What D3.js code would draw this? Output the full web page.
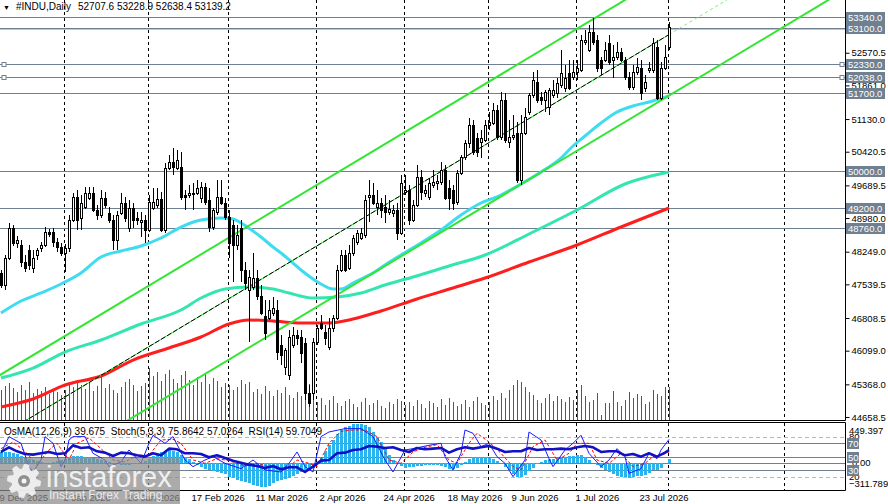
<!DOCTYPE html>
<html>
<head>
<meta charset="utf-8">
<script src="https://cdn.jsdelivr.net/npm/d3@7/dist/d3.min.js"></script>
<style>
html,body{margin:0;padding:0;background:#fff;overflow:hidden;}
svg{display:block;}
text{font-family:"Liberation Sans",Arial,sans-serif;}
</style>
</head>
<body>
<svg id="chart" width="888" height="504"></svg>
<script>
// ---------------- DATA ----------------
const symbolTitle = "#INDU,Daily";
const headerValues = "52707.6 53228.9 52638.4 53139.2";
const oscTitle = "OsMA(12,26,9) 39.675  Stoch(5,3,3) 75.8642 57.0264  RSI(14) 59.7049";

const open = [47786,47526,48112,48764,48438,48394,48025,48286,47894,48177,
 48329,48394,48677,48677,48459,48351,48221,48329,48937,49437,
 48981,49220,49415,49523,49154,49046,49415,49089,48937,48503,
 49089,49306,48764,49198,48981,48894,48937,48720,49198,49263,
 49393,48720,50067,50197,50067,50088,49480,49480,49502,49523,
 49415,49654,49372,48785,49111,49437,49306,49002,48829,48394,
 48764,47851,47417,47482,47677,47286,46852,46809,46917,46982,
 46222,45744,45571,46222,46439,46396,46266,45180,45180,46287,
 46700,46505,46179,46591,46809,47851,48177,47894,48221,48459,
 48546,48611,49437,49480,49220,49306,49220,49111,49089,49154,
 48655,49545,49589,48937,49263,49871,49523,49437,49697,49741,
 49763,50023,49632,49589,49328,49958,50306,50610,51001,50718,
 50631,50675,51001,51044,51326,50740,51544,50631,50740,50827,
 49806,50827,51283,51652,51935,51609,51544,51392,51652,51696,
 51869,51804,52130,52043,52152,52195,52803,52630,53021,52847,
 52412,52412,52782,52412,52478,52586,52412,52043,51826,52152,
 52239,51804,52195,52195,52695,51587,52239,52707.6];
const high = [47851,48177,48872,48829,48590,48503,48177,48394,48286,48329,
 48459,48785,48742,48764,48546,48438,48416,49046,49523,49589,
 49480,49654,49654,49654,49263,49589,49545,49220,49046,49133,
 49523,49437,49372,49306,49111,49111,49046,49480,49632,49632,
 49545,50175,50349,50501,50458,50414,49589,49697,49741,49806,
 49763,49741,49632,49198,49806,49806,49415,49154,48937,48829,
 48937,48025,47851,48221,47851,47526,47200,47200,47265,47200,
 46439,46157,46548,46613,46548,46548,46374,45353,46374,46657,
 46874,46657,46809,46874,47960,48286,48286,48394,48611,48720,
 48764,49480,49806,49741,49589,49415,49480,49372,49263,49306,
 49915,49915,49697,49372,50132,50023,49697,49849,50023,49915,
 50197,50132,49806,49697,50023,50349,50675,51153,51109,50827,
 50892,51109,51283,51479,51435,51717,51696,51109,51218,51066,
 51218,51370,51696,52152,52195,51717,51761,51804,51978,52022,
 52630,52304,52412,52412,52412,52956,53064,53173,53320,52956,
 52478,52803,52956,52738,52803,52673,52478,52152,52304,52456,
 52412,52087,52369,52890,52847,52369,52738,53228.9];
const low = [47460,47417,48068,48373,48329,47916,47807,47851,47786,48068,
 48242,48351,48568,48351,48242,48155,47807,48242,48894,48720,
 48720,49176,49372,49111,48937,48981,49198,48872,48286,48286,
 49046,48894,48677,48764,48829,48568,48438,48677,49154,49198,
 48677,48655,50023,49915,50023,49372,49154,49415,49154,49480,
 49306,49263,48677,48720,49046,49263,48937,48112,47590,48286,
 47590,47417,46287,47417,47200,46874,46331,46765,46852,45896,
 45788,45571,45462,46157,46222,45831,45028,44876,45028,46222,
 46548,46222,46114,46505,46765,47807,47807,47851,48155,48394,
 48503,48546,48894,49263,49046,48981,48872,49046,49002,48503,
 48611,49480,48829,48894,49220,49372,49437,49372,49632,49589,
 49697,49372,49154,49154,49263,49915,50240,50501,50349,50306,
 50284,50631,50892,51001,50675,50675,50610,50501,50675,49741,
 49697,50783,51218,51587,51479,51435,51283,51218,51587,51587,
 51804,51717,51761,51978,51978,52152,52738,52586,52738,52152,
 52087,52369,52304,52022,52412,52369,51978,51761,51761,52087,
 51544,51717,52130,52130,51544,51544,52195,52638.4];
const close = [47526,48112,48764,48438,48503,48025,47894,47960,48112,48286,
 48394,48677,48633,48459,48351,48221,48329,48937,49437,48937,
 49306,49523,49523,49154,49046,49415,49263,48937,48503,49046,
 49306,48981,49198,48937,48937,48937,48720,49328,49328,49393,
 48720,50067,50197,50088,50240,49437,49437,49523,49523,49632,
 49654,49328,48785,49154,49437,49306,49002,48438,48394,48611,
 47851,47569,47699,47677,47286,46917,46483,46982,47027,46070,
 46005,46114,46396,46439,46374,46048,45180,44963,46287,46591,
 46591,46374,46591,46809,47851,48177,47851,48221,48546,48655,
 48655,49372,49480,49306,49306,49154,49111,49176,49154,48655,
 49741,49589,48937,49263,49871,49545,49589,49741,49763,49784,
 50023,49415,49415,49306,49958,50306,50610,51001,50414,50414,
 50718,51001,51066,51326,50740,51544,50675,50740,50783,49806,
 50827,51175,51652,51978,51544,51544,51717,51761,51761,51913,
 52130,52022,51804,52152,52239,52847,52847,53021,52803,52239,
 52239,52630,52369,52478,52586,52412,52043,51826,52152,52260,
 51696,51935,52239,52782,51587,52239,52478,53139.2];

// tick volume (thousands)
const volume = [30,34,37,32,28,35,30,38,27,31,29,33,26,30,28,25,
 30,36,33,40,35,31,38,29,34,43,32,36,30,27,33,38,41,35,29,34,37,
 52,44,48,39,46,50,41,37,45,49,40,35,43,38,47,36,42,39,33,37,
 35,30,33,40,36,38,28,31,26,34,29,24,30,27,33,25,22,28,24,40,36,30,
 18,22,15,20,24,17,14,19,21,16,13,18,22,15,17,20,14,12,18,16,21,19,
 15,18,14,20,16,12,19,17,13,21,15,22,18,14,16,20,13,19,23,17,15,
 18,24,20,27,22,30,35,40,38,33,28,25,20,17,22,26,19,24,21,18,23,20,
 30,35,24,18,20,27,5,17,17,29,18,14,20,28,22,26,24,16,18,30,26,24,33,33];

// moving averages [bar index, price]
const maFast = [[0,46917],[5,47178],[10,47352],[15,47547],[20,47786],[25,48134],[30,48264],[35,48373],[40,48546],[45,48785],[50,48937],[55,48981],[58,48959],[60,48872],[63,48698],[65,48568],[68,48351],[70,48221],[73,48003],[75,47851],[78,47656],[80,47547],[83,47439],[85,47439],[88,47569],[90,47656],[93,47786],[96,47960],[100,48177],[105,48438],[110,48720],[115,49046],[120,49306],[125,49480],[130,49719],[135,49980],[140,50284],[143,50545],[146,50762],[150,51044],[154,51283],[158,51414],[162,51501],[167,51631]];
const maMid = [[0,45505],[8,45722],[16,46070],[25,46331],[35,46679],[45,46982],[50,47243],[56,47439],[62,47482],[68,47439],[72,47352],[78,47243],[84,47265],[90,47352],[96,47526],[103,47699],[112,47938],[121,48177],[132,48633],[144,49154],[156,49719],[167,49980]];
const maSlow = [[0,44876],[8,45050],[16,45353],[25,45549],[33,45896],[42,46157],[50,46396],[57,46679],[62,46765],[68,46744],[75,46700],[82,46700],[88,46787],[95,46961],[104,47221],[113,47460],[121,47677],[132,48025],[144,48394],[155,48785],[167,49198]];

// regression channel: midline anchors [bar index, price] and half width
const channelMid = [[0,44259],[167,52964]];
const channelHalf = 1325;

// oscillators
const osma = [125,120,115,110,100,80,60,45,30,15,
 5,-5,0,10,15,30,45,60,70,75,
 72,65,58,50,40,28,15,5,-10,-20,
 -28,-30,-27,-22,-15,-5,15,45,75,100,
 120,135,140,130,115,90,60,35,5,-25,
 -55,-75,-90,-100,-110,-115,-130,-160,-180,-200,
 -215,-225,-235,-250,-262,-275,-280,-265,-230,-210,
 -200,-190,-175,-150,-130,-110,-95,-80,-60,-20,
 60,130,200,260,320,370,400,420,435,440,
 440,430,400,350,290,230,160,90,30,-10,
 -40,-60,-55,-45,-40,-35,-30,-30,-25,-30,
 -40,-55,-70,-75,-60,-30,10,40,60,65,
 65,60,50,35,15,-10,-50,-90,-130,-160,
 -165,-140,-100,-60,-20,10,30,40,45,50,
 55,60,70,80,90,85,60,30,0,-30,
 -60,-85,-110,-130,-150,-160,-165,-170,-160,-150,
 -155,-140,-120,-90,-80,-60,-10,39.675];
const stochMain = [[0,55],[2,80],[5,70],[7,35],[8,27],[10,45],[11,80],[13,70],[15,35],[16,45],[17,75],[18,80],[21,80],[23,55],[26,45],[27,35],[30,42],[32,60],[35,40],[37,70],[38,82],[41,70],[43,80],[46,45],[48,35],[51,45],[53,50],[56,40],[60,32],[63,45],[66,30],[70,27],[72,40],[74,57],[76,35],[78,27],[80,80],[82,87],[86,92],[90,92],[93,80],[96,45],[98,27],[101,60],[103,62],[107,67],[110,70],[111,50],[113,30],[115,55],[116,90],[118,85],[120,65],[122,70],[124,50],[126,40],[128,20],[131,45],[132,87],[135,75],[137,47],[138,35],[141,60],[143,70],[145,82],[147,55],[150,35],[152,45],[154,62],[156,50],[157,25],[160,32],[162,55],[164,47],[165,60],[167,75.8642]];
const stochSignal = [[0,62],[3,72],[6,58],[9,38],[12,60],[14,70],[17,45],[19,70],[22,78],[25,62],[28,45],[31,42],[34,52],[37,52],[40,75],[43,76],[45,70],[48,45],[51,40],[54,47],[57,44],[61,36],[64,40],[67,35],[71,30],[74,45],[77,40],[79,35],[82,70],[85,88],[88,90],[91,90],[94,80],[97,45],[100,40],[103,57],[106,64],[109,68],[112,45],[114,40],[117,70],[119,85],[122,72],[125,55],[128,35],[130,30],[133,65],[136,75],[139,45],[142,55],[144,70],[147,70],[149,45],[152,40],[155,55],[158,35],[161,40],[163,50],[165,52],[167,57.0264]];
const rsi = [[0,57],[2,64],[4,58],[6,54],[8,53],[10,55],[12,57],[14,54],[16,55],[18,67],[20,63],[22,64],[24,58],[26,56],[28,51],[30,56],[32,55],[34,52],[36,50],[38,55],[40,52],[42,62],[44,61],[46,55],[48,55],[50,54],[52,49],[54,52],[56,48],[58,44],[60,41],[62,38],[64,36],[66,33],[68,36],[70,31],[72,34],[74,34],[76,27],[78,35],[80,44],[82,45],[84,55],[86,56],[88,60],[90,61],[92,66],[94,65],[96,63],[98,64],[100,60],[102,57],[104,63],[106,61],[108,62],[110,63],[112,56],[114,61],[116,64],[118,62],[120,64],[122,66],[124,62],[126,57],[128,58],[130,58],[132,63],[134,60],[136,61],[138,61],[140,62],[142,61],[144,64],[146,66],[148,64],[150,57],[152,58],[154,58],[156,52],[158,54],[160,50],[162,55],[164,50],[166,56],[167,59.7049]];

// levels and axis labels
const levels = [53340, 53100, 52330, 52038, 51700, 50000, 49200, 48760];
const selectedLevels = [52330, 52038];
const bidLine = 53085;
const priceTicks = [52570.5, 51861.0, 51130.0, 50420.5, 49689.5, 48980.0, 48249.0, 47539.5, 46808.5, 46099.0, 45368.0, 44658.5];
const oscMax = 449.397, oscMin = -311.789;
const oscBoxLevels = [70, 50, 30];
const oscDashLevels = [80, 20];
const dateLabels = ["9 Dec 2025","2 Jan 2026","26 Jan 2026","17 Feb 2026","11 Mar 2026","2 Apr 2026","24 Apr 2026","18 May 2026","9 Jun 2026","1 Jul 2026","23 Jul 2026"];
const dateLabelIdx = [0,16,32,48,64,80,96,112,128,144,160];
const separatorIdx = [16,37,57,79,101,122,144,167,196];

// ---------------- LAYOUT ----------------
const svg = d3.select("#chart");
const R = 845;
const mainB = 420;
const oscT = 423, oscB = 490;
const slate = "#708090";
const FS = 9.5;

const x = d3.scaleLinear().domain([0, 167]).range([1, 669]);
const y = d3.scaleLinear().domain([44593.3, 53715.7]).range([420, 0]);
const yVol = d3.scaleLinear().domain([0, 100]).range([420, 320]);
const yOs = d3.scaleLinear().domain([oscMin, oscMax]).range([490, 423]);
const yPct = d3.scaleLinear().domain([0, 100]).range([490, 423.3]);

const defs = svg.append("defs");
defs.append("clipPath").attr("id","clipMain").append("rect").attr("x",0).attr("y",0).attr("width",R).attr("height",mainB);
defs.append("clipPath").attr("id","clipOsc").append("rect").attr("x",0).attr("y",oscT).attr("width",R).attr("height",oscB-oscT);

const main = svg.append("g").attr("clip-path","url(#clipMain)");
const osc = svg.append("g").attr("clip-path","url(#clipOsc)");

// separators
[ [0, mainB, main], [oscT, oscB, osc] ].forEach(([a,b,g]) => {
  g.append("g").selectAll("line").data(separatorIdx).join("line")
    .attr("x1", d => x(d)-0.5).attr("x2", d => x(d)-0.5)
    .attr("y1", a).attr("y2", b)
    .attr("stroke","#000").attr("stroke-width",1).attr("stroke-dasharray","3,3");
});

// horizontal levels
main.append("line").attr("x1",0).attr("x2",R)
  .attr("y1", Math.round(y(bidLine))+0.5).attr("y2", Math.round(y(bidLine))+0.5)
  .attr("stroke","#c4c4c4");
main.append("g").selectAll("line").data(levels).join("line")
  .attr("x1",0).attr("x2",R)
  .attr("y1", d => Math.round(y(d))+0.5).attr("y2", d => Math.round(y(d))+0.5)
  .attr("stroke", slate).attr("stroke-width",1);
main.append("g").selectAll("rect").data(selectedLevels.flatMap(v => [[2,v],[R-5,v]])).join("rect")
  .attr("x", d => d[0]).attr("y", d => Math.round(y(d[1]))-1.5).attr("width",4).attr("height",4)
  .attr("fill","#fff").attr("stroke", slate);

// volumes (1px bars)
main.append("g").attr("shape-rendering","crispEdges").selectAll("rect").data(volume).join("rect")
  .attr("x", (d,i) => x(i)).attr("width", 1)
  .attr("y", d => Math.round(yVol(d))).attr("height", d => mainB - Math.round(yVol(d)))
  .attr("fill","#009400");

// moving averages
const maLine = d3.line().x(d => x(d[0])).y(d => y(d[1])).curve(d3.curveMonotoneX);
[[maSlow,"#ff1e1e"],[maMid,"#33e6b0"],[maFast,"#3fdcef"]].forEach(([data,col]) => {
  main.append("path").datum(data).attr("d", maLine).attr("fill","none")
    .attr("stroke", col).attr("stroke-width",3).attr("stroke-linejoin","round");
});

// channel
const chSlope = (channelMid[1][1]-channelMid[0][1])/(channelMid[1][0]-channelMid[0][0]);
const chAt = (i, off) => channelMid[0][1] + chSlope*(i-channelMid[0][0]) + off;
const chLine = (i0, i1, off) => [[x(i0), y(chAt(i0,off))], [x(i1), y(chAt(i1,off))]];
const ln = d3.line();
[channelHalf, -channelHalf].forEach(off => {
  main.append("path").attr("d", ln(chLine(-5, 230, off))).attr("fill","none")
    .attr("stroke","#33e633").attr("stroke-width",2);
});
main.append("path").attr("d", ln(chLine(-5, 167, 0))).attr("fill","none").attr("stroke","#33e633").attr("stroke-width",1);
main.append("path").attr("d", ln(chLine(-5, 167, 0))).attr("fill","none").attr("stroke","#000").attr("stroke-width",1).attr("stroke-dasharray","5,2");
main.append("path").attr("d", ln(chLine(167, 230, 0))).attr("fill","none").attr("stroke","#7fe87f").attr("stroke-width",1).attr("stroke-dasharray","3,3");

// candles
const bars = d3.range(open.length).map(i => ({i, o:open[i], h:high[i], l:low[i], c:close[i]}));
const gC = main.append("g").attr("shape-rendering","crispEdges");
gC.selectAll("line").data(bars).join("line")
  .attr("x1", d => x(d.i)+0.5).attr("x2", d => x(d.i)+0.5)
  .attr("y1", d => y(d.h)).attr("y2", d => y(d.l))
  .attr("stroke","#000").attr("stroke-width",1);
gC.selectAll("rect").data(bars).join("rect")
  .attr("x", d => x(d.i)-0.5).attr("width", 2)
  .attr("y", d => Math.round(y(Math.max(d.o,d.c)))+0.5)
  .attr("height", d => Math.max(1, Math.round(Math.abs(y(d.o)-y(d.c)))))
  .attr("fill", d => d.c >= d.o ? "#fff" : "#000")
  .attr("stroke","#000").attr("stroke-width",1);

// header
svg.append("text").attr("x",3).attr("y",9.5).attr("font-size",7)
  .attr("font-family","DejaVu Sans").text("\u25BC");
svg.append("text").attr("x",16).attr("y",10).attr("font-size",10).text(symbolTitle);
svg.append("text").attr("x",78).attr("y",10).attr("font-size",10).text(headerValues);

// ---------------- OSCILLATOR PANEL ----------------
osc.append("g").selectAll("line").data(oscDashLevels).join("line")
  .attr("x1",0).attr("x2",R).attr("y1", d => Math.round(yPct(d))+0.5).attr("y2", d => Math.round(yPct(d))+0.5)
  .attr("stroke","#b8b8b8").attr("stroke-dasharray","4,3");
osc.append("g").selectAll("line").data(oscBoxLevels).join("line")
  .attr("x1",0).attr("x2",R).attr("y1", d => Math.round(yPct(d))+0.5).attr("y2", d => Math.round(yPct(d))+0.5)
  .attr("stroke", slate);
osc.append("line").attr("x1",0).attr("x2",R)
  .attr("y1", Math.round(yOs(0))+0.5).attr("y2", Math.round(yOs(0))+0.5).attr("stroke", slate);

osc.append("g").attr("shape-rendering","crispEdges").selectAll("rect").data(osma).join("rect")
  .attr("x", (d,i) => x(i)-1).attr("width",3)
  .attr("y", d => Math.min(yOs(d), yOs(0))).attr("height", d => Math.abs(yOs(d)-yOs(0)))
  .attr("fill","#2ab4ee");

const pLine = d3.line().x(d => x(d[0])).y(d => yPct(d[1]));
osc.append("path").datum(stochSignal).attr("d", pLine).attr("fill","none")
  .attr("stroke","#ff0000").attr("stroke-width",1).attr("stroke-dasharray","3,2");
osc.append("path").datum(stochMain).attr("d", pLine).attr("fill","none")
  .attr("stroke","#1a1aff").attr("stroke-width",1);
osc.append("path").datum(rsi).attr("d", pLine).attr("fill","none")
  .attr("stroke","#1212c4").attr("stroke-width",2.6).attr("stroke-linejoin","round");

svg.append("text").attr("x",4).attr("y",435).attr("font-size",10)
  .style("white-space","pre").text(oscTitle);

// ---------------- FRAMES & AXES ----------------
const frame = svg.append("g").attr("stroke","#000").attr("stroke-width",1).attr("fill","none");
frame.append("line").attr("x1",0).attr("x2",R+0.5).attr("y1",mainB+0.5).attr("y2",mainB+0.5);
frame.append("line").attr("x1",0).attr("x2",R+0.5).attr("y1",oscT-0.5).attr("y2",oscT-0.5);
frame.append("line").attr("x1",0).attr("x2",R+0.5).attr("y1",oscB+0.5).attr("y2",oscB+0.5);
frame.append("line").attr("x1",R+0.5).attr("x2",R+0.5).attr("y1",oscT-0.5).attr("y2",oscB+0.5);

const yAxis = d3.axisRight(y).tickValues(priceTicks).tickFormat(d3.format(".1f")).tickSize(4).tickSizeOuter(0).tickPadding(2);
const gy = svg.append("g").attr("transform",`translate(${R+0.5},0)`).call(yAxis);
gy.select(".domain").attr("d", `M0,0V${mainB+0.5}`).attr("stroke","#000");
gy.selectAll("text").attr("font-size",FS).attr("font-family","Liberation Sans, Arial, sans-serif").attr("fill","#000");
gy.selectAll(".tick line").attr("stroke","#000");

// level label boxes
const lab = svg.append("g");
levels.forEach(v => {
  const yy = Math.round(y(v));
  lab.append("rect").attr("x",846).attr("y",yy-5).attr("width",39).attr("height",11).attr("fill",slate);
  lab.append("text").attr("x",848).attr("y",yy+4).attr("font-size",FS).attr("fill","#fff").text(d3.format(".1f")(v));
});

// oscillator labels
const ol = svg.append("g").attr("font-size",FS);
ol.append("text").attr("x",849).attr("y",yOs(oscMax)+11).text(d3.format(".3f")(oscMax));
ol.append("text").attr("x",849).attr("y",yOs(oscMin)-3).text(d3.format(".3f")(oscMin));
oscDashLevels.forEach(v => ol.append("text").attr("x",849).attr("y",yPct(v)+3.5).text(v));
ol.append("text").attr("x",852).attr("y",yOs(0)+3.5).text("0.00");
oscBoxLevels.forEach(v => {
  const yy = Math.round(yPct(v));
  ol.append("rect").attr("x",847).attr("y",yy-5).attr("width",12).attr("height",11).attr("fill",slate);
  ol.append("text").attr("x",848).attr("y",yy+4).attr("fill","#fff").text(v);
});

// date axis
const xAxis = d3.axisBottom(x).tickValues(dateLabelIdx).tickFormat((d,i) => dateLabels[i]).tickSize(0).tickPadding(4);
const gx = svg.append("g").attr("transform",`translate(0,${oscB})`).call(xAxis);
gx.select(".domain").remove();
gx.selectAll("text").attr("font-size",FS).attr("text-anchor","start").attr("dx",-2)
  .attr("font-family","Liberation Sans, Arial, sans-serif").attr("fill","#000");

// ---------------- WATERMARK ----------------
const wm = svg.append("g");
wm.append("rect").attr("x",0).attr("y",458).attr("width",180).attr("height",46).attr("fill","#8a8a8a").attr("opacity",0.72);
const gearPts = d3.range(40).map(t => {
  const a = t/40*2*Math.PI;
  const r = (t % 5 < 3) ? 17 : 12.5;
  return [24 + r*Math.cos(a), 481 + r*Math.sin(a)];
});
wm.append("path").attr("d", d3.line().curve(d3.curveLinearClosed)(gearPts)).attr("fill","#f4f4f4").attr("opacity",0.9);
wm.append("circle").attr("cx",24).attr("cy",481).attr("r",6).attr("fill","#8f8f8f");
wm.append("circle").attr("cx",24).attr("cy",481).attr("r",2.5).attr("fill","#f4f4f4");
wm.append("text").attr("x",46).attr("y",487).attr("font-size",29).attr("font-family","Lato, 'Open Sans', sans-serif")
  .attr("fill","#f6f6f6").attr("opacity",0.92).text("instaforex");
wm.append("text").attr("x",49).attr("y",498.5).attr("font-size",12).attr("font-family","Lato, 'Open Sans', sans-serif")
  .attr("fill","#f0f0f0").attr("opacity",0.9).text("Instant Forex Trading");
</script>
</body>
</html>
